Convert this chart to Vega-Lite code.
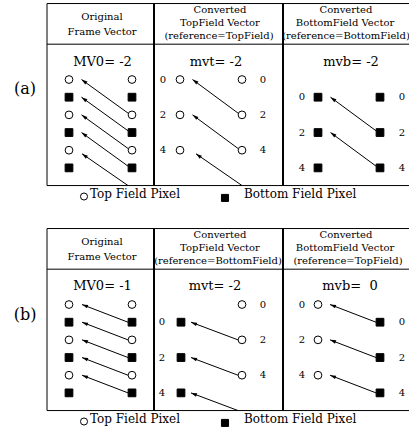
{
  "$schema": "https://vega.github.io/schema/vega-lite/v6.json",
  "padding": 0,
  "background": "white",
  "spacing": {"row": 20},
  "data": {"values": [
    {"p":"a","k":"border","x":47,"y":-4.3,"x2":409,"y2":-4.3},
    {"p":"a","k":"border","x":47,"y":-2,"x2":409,"y2":-2},
    {"p":"a","k":"border","x":47,"y":6,"x2":409,"y2":6},
    {"p":"a","k":"border","x":47,"y":-4.3,"x2":47,"y2":6},
    {"p":"a","k":"sep","x":154,"y":-4.3,"x2":154,"y2":6},
    {"p":"a","k":"sep","x":283,"y":-4.3,"x2":283,"y2":6},
    {"p":"b","k":"border","x":47,"y":-4.3,"x2":409,"y2":-4.3},
    {"p":"b","k":"border","x":47,"y":-2,"x2":409,"y2":-2},
    {"p":"b","k":"border","x":47,"y":6,"x2":409,"y2":6},
    {"p":"b","k":"border","x":47,"y":-4.3,"x2":47,"y2":6},
    {"p":"b","k":"sep","x":154,"y":-4.3,"x2":154,"y2":6},
    {"p":"b","k":"sep","x":283,"y":-4.3,"x2":283,"y2":6},

    {"p":"a","k":"hdr","x":102,"y":-3.52,"t":"Original"},
    {"p":"a","k":"hdr","x":102,"y":-2.7,"t":"Frame Vector"},
    {"p":"a","k":"hdr","x":220,"y":-3.96,"t":"Converted"},
    {"p":"a","k":"hdr","x":220,"y":-3.2,"t":"TopField Vector"},
    {"p":"a","k":"hdr","x":219,"y":-2.46,"t":"(reference=TopField)"},
    {"p":"a","k":"hdr","x":346,"y":-3.96,"t":"Converted"},
    {"p":"a","k":"hdr","x":345,"y":-3.2,"t":"BottomField Vector"},
    {"p":"a","k":"hdr","x":346,"y":-2.46,"t":"(reference=BottomField)"},
    {"p":"b","k":"hdr","x":102,"y":-3.52,"t":"Original"},
    {"p":"b","k":"hdr","x":102,"y":-2.7,"t":"Frame Vector"},
    {"p":"b","k":"hdr","x":220,"y":-3.96,"t":"Converted"},
    {"p":"b","k":"hdr","x":220,"y":-3.2,"t":"TopField Vector"},
    {"p":"b","k":"hdr","x":218,"y":-2.46,"t":"(reference=BottomField)"},
    {"p":"b","k":"hdr","x":346,"y":-3.96,"t":"Converted"},
    {"p":"b","k":"hdr","x":345,"y":-3.2,"t":"BottomField Vector"},
    {"p":"b","k":"hdr","x":348,"y":-2.46,"t":"(reference=TopField)"},

    {"p":"a","k":"mv","x":102.5,"y":-1,"t":"MV0= -2"},
    {"p":"a","k":"mv","x":216,"y":-1,"t":"mvt= -2"},
    {"p":"a","k":"mv","x":351,"y":-1,"t":"mvb= -2"},
    {"p":"b","k":"mv","x":102.5,"y":-1.05,"t":"MV0= -1"},
    {"p":"b","k":"mv","x":215,"y":-1.05,"t":"mvt= -2"},
    {"p":"b","k":"mv","x":350,"y":-1.05,"t":"mvb= \u00a00"},

    {"p":"a","k":"tag","x":25,"y":0.55,"t":"(a)"},
    {"p":"b","k":"tag","x":25,"y":0.6,"t":"(b)"},

    {"p":"a","k":"pix","x":69,"y":0,"f":"top"},
    {"p":"a","k":"pix","x":69,"y":1,"f":"bottom"},
    {"p":"a","k":"pix","x":69,"y":2,"f":"top"},
    {"p":"a","k":"pix","x":69,"y":3,"f":"bottom"},
    {"p":"a","k":"pix","x":69,"y":4,"f":"top"},
    {"p":"a","k":"pix","x":69,"y":5,"f":"bottom"},
    {"p":"a","k":"pix","x":132,"y":0,"f":"top"},
    {"p":"a","k":"pix","x":132,"y":1,"f":"bottom"},
    {"p":"a","k":"pix","x":132,"y":2,"f":"top"},
    {"p":"a","k":"pix","x":132,"y":3,"f":"bottom"},
    {"p":"a","k":"pix","x":132,"y":4,"f":"top"},
    {"p":"a","k":"pix","x":132,"y":5,"f":"bottom"},
    {"p":"a","k":"pix","x":180,"y":0,"f":"top"},
    {"p":"a","k":"pix","x":180,"y":2,"f":"top"},
    {"p":"a","k":"pix","x":180,"y":4,"f":"top"},
    {"p":"a","k":"pix","x":242,"y":0,"f":"top"},
    {"p":"a","k":"pix","x":242,"y":2,"f":"top"},
    {"p":"a","k":"pix","x":242,"y":4,"f":"top"},
    {"p":"a","k":"pix","x":318,"y":1,"f":"bottom"},
    {"p":"a","k":"pix","x":318,"y":3,"f":"bottom"},
    {"p":"a","k":"pix","x":318,"y":5,"f":"bottom"},
    {"p":"a","k":"pix","x":380,"y":1,"f":"bottom"},
    {"p":"a","k":"pix","x":380,"y":3,"f":"bottom"},
    {"p":"a","k":"pix","x":380,"y":5,"f":"bottom"},
    {"p":"b","k":"pix","x":69,"y":0,"f":"top"},
    {"p":"b","k":"pix","x":69,"y":1,"f":"bottom"},
    {"p":"b","k":"pix","x":69,"y":2,"f":"top"},
    {"p":"b","k":"pix","x":69,"y":3,"f":"bottom"},
    {"p":"b","k":"pix","x":69,"y":4,"f":"top"},
    {"p":"b","k":"pix","x":69,"y":5,"f":"bottom"},
    {"p":"b","k":"pix","x":132,"y":0,"f":"top"},
    {"p":"b","k":"pix","x":132,"y":1,"f":"bottom"},
    {"p":"b","k":"pix","x":132,"y":2,"f":"top"},
    {"p":"b","k":"pix","x":132,"y":3,"f":"bottom"},
    {"p":"b","k":"pix","x":132,"y":4,"f":"top"},
    {"p":"b","k":"pix","x":132,"y":5,"f":"bottom"},
    {"p":"b","k":"pix","x":181,"y":1,"f":"bottom"},
    {"p":"b","k":"pix","x":181,"y":3,"f":"bottom"},
    {"p":"b","k":"pix","x":181,"y":5,"f":"bottom"},
    {"p":"b","k":"pix","x":242,"y":0,"f":"top"},
    {"p":"b","k":"pix","x":242,"y":2,"f":"top"},
    {"p":"b","k":"pix","x":242,"y":4,"f":"top"},
    {"p":"b","k":"pix","x":318,"y":0,"f":"top"},
    {"p":"b","k":"pix","x":318,"y":2,"f":"top"},
    {"p":"b","k":"pix","x":318,"y":4,"f":"top"},
    {"p":"b","k":"pix","x":380,"y":1,"f":"bottom"},
    {"p":"b","k":"pix","x":380,"y":3,"f":"bottom"},
    {"p":"b","k":"pix","x":380,"y":5,"f":"bottom"},

    {"p":"a","k":"num","x":163,"y":0,"t":"0"},
    {"p":"a","k":"num","x":163,"y":2,"t":"2"},
    {"p":"a","k":"num","x":163,"y":4,"t":"4"},
    {"p":"a","k":"num","x":263,"y":0,"t":"0"},
    {"p":"a","k":"num","x":263,"y":2,"t":"2"},
    {"p":"a","k":"num","x":263,"y":4,"t":"4"},
    {"p":"a","k":"num","x":302,"y":1,"t":"0"},
    {"p":"a","k":"num","x":302,"y":3,"t":"2"},
    {"p":"a","k":"num","x":302,"y":5,"t":"4"},
    {"p":"a","k":"num","x":402,"y":1,"t":"0"},
    {"p":"a","k":"num","x":402,"y":3,"t":"2"},
    {"p":"a","k":"num","x":402,"y":5,"t":"4"},
    {"p":"b","k":"num","x":162,"y":1,"t":"0"},
    {"p":"b","k":"num","x":162,"y":3,"t":"2"},
    {"p":"b","k":"num","x":162,"y":5,"t":"4"},
    {"p":"b","k":"num","x":263,"y":0,"t":"0"},
    {"p":"b","k":"num","x":263,"y":2,"t":"2"},
    {"p":"b","k":"num","x":263,"y":4,"t":"4"},
    {"p":"b","k":"num","x":302,"y":0,"t":"0"},
    {"p":"b","k":"num","x":302,"y":2,"t":"2"},
    {"p":"b","k":"num","x":302,"y":4,"t":"4"},
    {"p":"b","k":"num","x":402,"y":1,"t":"0"},
    {"p":"b","k":"num","x":402,"y":3,"t":"2"},
    {"p":"b","k":"num","x":402,"y":5,"t":"4"},

    {"p":"a","k":"arrow","x":128,"y":1.9,"x2":81.5,"y2":0},
    {"p":"a","k":"arrow","x":128,"y":2.9,"x2":81.5,"y2":1},
    {"p":"a","k":"arrow","x":128,"y":3.9,"x2":81.5,"y2":2},
    {"p":"a","k":"arrow","x":128,"y":4.9,"x2":81.5,"y2":3},
    {"p":"a","k":"arrow","x":128,"y":6,"x2":82,"y2":4.2},
    {"p":"a","k":"arrow","x":238,"y":1.9,"x2":192.5,"y2":0},
    {"p":"a","k":"arrow","x":238,"y":3.9,"x2":192.5,"y2":2},
    {"p":"a","k":"arrow","x":242,"y":6,"x2":196,"y2":4.2},
    {"p":"a","k":"arrow","x":376,"y":2.9,"x2":330.5,"y2":1},
    {"p":"a","k":"arrow","x":376,"y":4.9,"x2":330.5,"y2":3},
    {"p":"b","k":"arrow","x":128,"y":1,"x2":82,"y2":0},
    {"p":"b","k":"arrow","x":128,"y":2,"x2":82,"y2":1},
    {"p":"b","k":"arrow","x":128,"y":3,"x2":82,"y2":2},
    {"p":"b","k":"arrow","x":128,"y":4,"x2":82,"y2":3},
    {"p":"b","k":"arrow","x":128,"y":5,"x2":82,"y2":4},
    {"p":"b","k":"arrow","x":238,"y":2,"x2":191,"y2":1},
    {"p":"b","k":"arrow","x":238,"y":4,"x2":191,"y2":3},
    {"p":"b","k":"arrow","x":238,"y":6,"x2":191,"y2":5},
    {"p":"b","k":"arrow","x":376,"y":1,"x2":330,"y2":0},
    {"p":"b","k":"arrow","x":376,"y":3,"x2":330,"y2":2},
    {"p":"b","k":"arrow","x":376,"y":5,"x2":330,"y2":4},

    {"p":"a","k":"leg","x":84,"y":6.62,"f":"top"},
    {"p":"a","k":"leg","x":225,"y":6.7,"f":"bottom"},
    {"p":"b","k":"leg","x":84,"y":6.62,"f":"top"},
    {"p":"b","k":"leg","x":225,"y":6.7,"f":"bottom"},
    {"p":"a","k":"legt","x":90,"y":6.48,"t":"Top Field Pixel"},
    {"p":"a","k":"legt","x":244,"y":6.48,"t":"Bottom Field Pixel"},
    {"p":"b","k":"legt","x":90,"y":6.48,"t":"Top Field Pixel"},
    {"p":"b","k":"legt","x":244,"y":6.48,"t":"Bottom Field Pixel"}
  ]},
  "facet": {"row": {"field": "p", "type": "nominal", "header": null}},
  "spec": {
    "width": 409,
    "height": 205,
    "encoding": {
      "x": {"field": "x", "type": "quantitative", "axis": null, "scale": {"domain": [0, 409], "nice": false, "zero": false}},
      "y": {"field": "y", "type": "quantitative", "axis": null, "scale": {"domain": [-4.5, 7.1], "nice": false, "zero": false, "reverse": true}}
    },
    "layer": [
      {
        "transform": [{"filter": "datum.k === 'border'"}],
        "mark": {"type": "rule", "color": "black", "strokeWidth": 1},
        "encoding": {"x2": {"field": "x2"}, "y2": {"field": "y2"}}
      },
      {
        "transform": [{"filter": "datum.k === 'sep'"}],
        "mark": {"type": "rule", "color": "black", "strokeWidth": 2},
        "encoding": {"x2": {"field": "x2"}, "y2": {"field": "y2"}}
      },
      {
        "transform": [{"filter": "datum.k === 'arrow'"}],
        "mark": {"type": "rule", "color": "black", "strokeWidth": 1},
        "encoding": {"x2": {"field": "x2"}, "y2": {"field": "y2"}}
      },
      {
        "transform": [{"filter": "datum.k === 'arrow' && datum.p === 'a'"}],
        "mark": {"type": "point", "shape": "M0,0L0.6,2L-0.6,2Z", "filled": true, "color": "black", "opacity": 1, "size": 36, "angle": 306},
        "encoding": {"x": {"field": "x2", "type": "quantitative"}, "y": {"field": "y2", "type": "quantitative"}}
      },
      {
        "transform": [{"filter": "datum.k === 'arrow' && datum.p === 'b'"}],
        "mark": {"type": "point", "shape": "M0,0L0.6,2L-0.6,2Z", "filled": true, "color": "black", "opacity": 1, "size": 36, "angle": 291},
        "encoding": {"x": {"field": "x2", "type": "quantitative"}, "y": {"field": "y2", "type": "quantitative"}}
      },
      {
        "transform": [{"filter": "datum.k === 'pix'"}],
        "mark": {"type": "point", "filled": true, "stroke": "black", "strokeWidth": 1, "opacity": 1, "size": 60},
        "encoding": {
          "shape": {"field": "f", "type": "nominal", "scale": {"domain": ["top", "bottom"], "range": ["circle", "square"]}, "legend": null},
          "fill": {"field": "f", "type": "nominal", "scale": {"domain": ["top", "bottom"], "range": ["white", "black"]}, "legend": null}
        }
      },
      {
        "transform": [{"filter": "datum.k === 'leg'"}],
        "mark": {"type": "point", "filled": true, "stroke": "black", "strokeWidth": 1, "opacity": 1, "size": 50},
        "encoding": {
          "shape": {"field": "f", "type": "nominal", "legend": null},
          "fill": {"field": "f", "type": "nominal", "legend": null}
        }
      },
      {
        "transform": [{"filter": "datum.k === 'hdr'"}],
        "mark": {"type": "text", "font": "'DejaVu Serif', serif", "fontSize": 10, "fill": "black", "align": "center", "baseline": "middle"},
        "encoding": {"text": {"field": "t"}}
      },
      {
        "transform": [{"filter": "datum.k === 'mv'"}],
        "mark": {"type": "text", "font": "'DejaVu Serif', serif", "fontSize": 13, "fill": "black", "align": "center", "baseline": "middle"},
        "encoding": {"text": {"field": "t"}}
      },
      {
        "transform": [{"filter": "datum.k === 'num'"}],
        "mark": {"type": "text", "font": "'DejaVu Serif', serif", "fontSize": 10, "fill": "black", "align": "center", "baseline": "middle"},
        "encoding": {"text": {"field": "t"}}
      },
      {
        "transform": [{"filter": "datum.k === 'tag'"}],
        "mark": {"type": "text", "font": "'DejaVu Serif', serif", "fontSize": 16, "fill": "black", "align": "center", "baseline": "middle"},
        "encoding": {"text": {"field": "t"}}
      },
      {
        "transform": [{"filter": "datum.k === 'legt'"}],
        "mark": {"type": "text", "font": "'DejaVu Serif', serif", "fontSize": 12, "fill": "black", "align": "left", "baseline": "middle"},
        "encoding": {"text": {"field": "t"}}
      }
    ]
  },
  "config": {"view": {"stroke": null}}
}
